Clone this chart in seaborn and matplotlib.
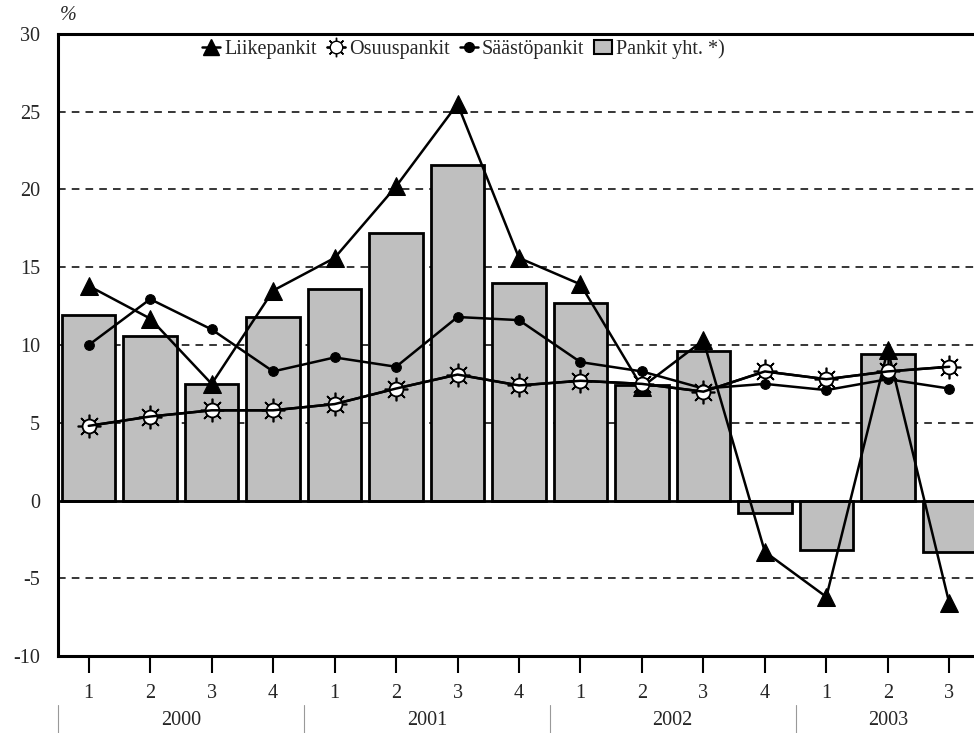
import matplotlib
matplotlib.use("Agg")
import matplotlib.pyplot as plt
import matplotlib.transforms as mtransforms
from matplotlib.lines import Line2D
from matplotlib.patches import Patch
from matplotlib.legend_handler import HandlerTuple
import seaborn as sns
import pandas as pd
import numpy as np

quarters = ["1", "2", "3", "4", "1", "2", "3", "4", "1", "2", "3", "4", "1", "2", "3"]
years = ["2000", "2001", "2002", "2003"]
year_centers = [1.5, 5.5, 9.5, 13.0]
year_separators = [-0.5, 3.5, 7.5, 11.5]

pankit_yht = [11.9, 10.6, 7.5, 11.8, 13.6, 17.2, 21.6, 14.0, 12.7, 7.4, 9.6, -0.8, -3.2, 9.4, -3.3]
liikepankit = [13.8, 11.7, 7.5, 13.5, 15.6, 20.2, 25.5, 15.6, 13.9, 7.3, 10.3, -3.3, -6.2, 9.7, -6.6]
osuuspankit = [4.8, 5.4, 5.8, 5.8, 6.2, 7.2, 8.1, 7.4, 7.7, 7.5, 7.0, 8.3, 7.8, 8.3, 8.6]
saastopankit = [10.0, 12.95, 11.0, 8.3, 9.2, 8.6, 11.8, 11.6, 8.9, 8.3, 7.2, 7.5, 7.1, 7.8, 7.2]

sns.set_style("white")
plt.rcParams["font.family"] = ["Liberation Serif", "DejaVu Serif"]

FS = 14.5

fig = plt.figure(figsize=(9.74, 7.33), dpi=100)
ax = fig.add_axes([58 / 974, 77 / 733, 922 / 974, 622 / 733])

pos = list(range(len(quarters)))
df = pd.DataFrame({"pos": pos, "val": pankit_yht})
sns.barplot(data=df, x="pos", y="val", ax=ax, width=0.87, color="#bfbfbf",
            edgecolor="black", linewidth=2, saturation=1, zorder=2)

lw = 1.8
sns.lineplot(x=pos, y=liikepankit, ax=ax, color="black", lw=lw, marker="^",
             markersize=13, markeredgecolor="black", zorder=4)
sns.lineplot(x=pos, y=saastopankit, ax=ax, color="black", lw=lw, marker="o",
             markersize=7, markeredgecolor="black", zorder=4)
sns.lineplot(x=pos, y=osuuspankit, ax=ax, color="black", lw=lw, marker=(8, 2, 0),
             markersize=17, markeredgewidth=1.2, markeredgecolor="black", zorder=5)
ax.plot(pos, osuuspankit, linestyle="none", marker="o", markersize=10,
        markerfacecolor="white", markeredgecolor="black", markeredgewidth=1.3, zorder=6)
ax.plot(pos, osuuspankit, color="black", lw=lw, zorder=7)

ax.axhline(0, color="black", lw=2, zorder=3)

ax.set_xlim(-0.5, len(quarters) - 0.5)
ax.set_ylim(-10, 30)
ax.set_yticks(range(-10, 31, 5))
ax.set_yticklabels([str(v) for v in range(-10, 31, 5)], fontsize=FS)
ax.set_xticks(pos)
ax.set_xticklabels(quarters, fontsize=FS)
ax.set_xlabel("")
ax.set_ylabel("")
ax.tick_params(axis="y", left=False, length=0, pad=13)
ax.tick_params(axis="x", bottom=True, length=12, width=1.5, color="black",
               direction="out", pad=8)

for y in [-5, 5, 10, 15, 20, 25]:
    ax.axhline(y, color="black", lw=1.1, ls=(0, (5, 4)), zorder=1)

for side in ["left", "top", "bottom"]:
    ax.spines[side].set_visible(True)
    ax.spines[side].set_color("black")
    ax.spines[side].set_linewidth(2.2)
ax.spines["right"].set_visible(False)

trans = mtransforms.blended_transform_factory(ax.transData, ax.transAxes)
for xc, yr in zip(year_centers, years):
    ax.text(xc, -0.104, yr, transform=trans, ha="center", va="center", fontsize=FS)
for xs in year_separators:
    ax.plot([xs, xs], [-0.078, -0.125], transform=trans, color="#999999", lw=0.8, clip_on=False)

fig.text(68 / 974, 1 - 15 / 733, "%", fontsize=FS, style="italic", ha="center", va="center")

h_liike = Line2D([], [], color="black", lw=lw, marker="^", markersize=11)
h_osuus_star = Line2D([], [], color="black", lw=lw, marker=(8, 2, 0), markersize=14, linestyle="none")
h_osuus_circ = Line2D([], [], color="black", lw=lw, marker="o", markersize=9,
                      markerfacecolor="white", markeredgecolor="black")
h_saasto = Line2D([], [], color="black", lw=lw, marker="o", markersize=7)
h_pankit = Patch(facecolor="#bfbfbf", edgecolor="black", linewidth=1.5)
leg = ax.legend([h_liike, (h_osuus_star, h_osuus_circ), h_saasto, h_pankit],
                ["Liikepankit", "Osuuspankit", "Säästöpankit", "Pankit yht. *)"],
                handler_map={tuple: HandlerTuple(ndivide=1)},
                loc="upper center", bbox_to_anchor=(0.44, 1.02), ncol=4, frameon=False,
                fontsize=FS, handlelength=0.9, handletextpad=0.2, columnspacing=0.5)

fig.savefig("out.png", dpi=100)
